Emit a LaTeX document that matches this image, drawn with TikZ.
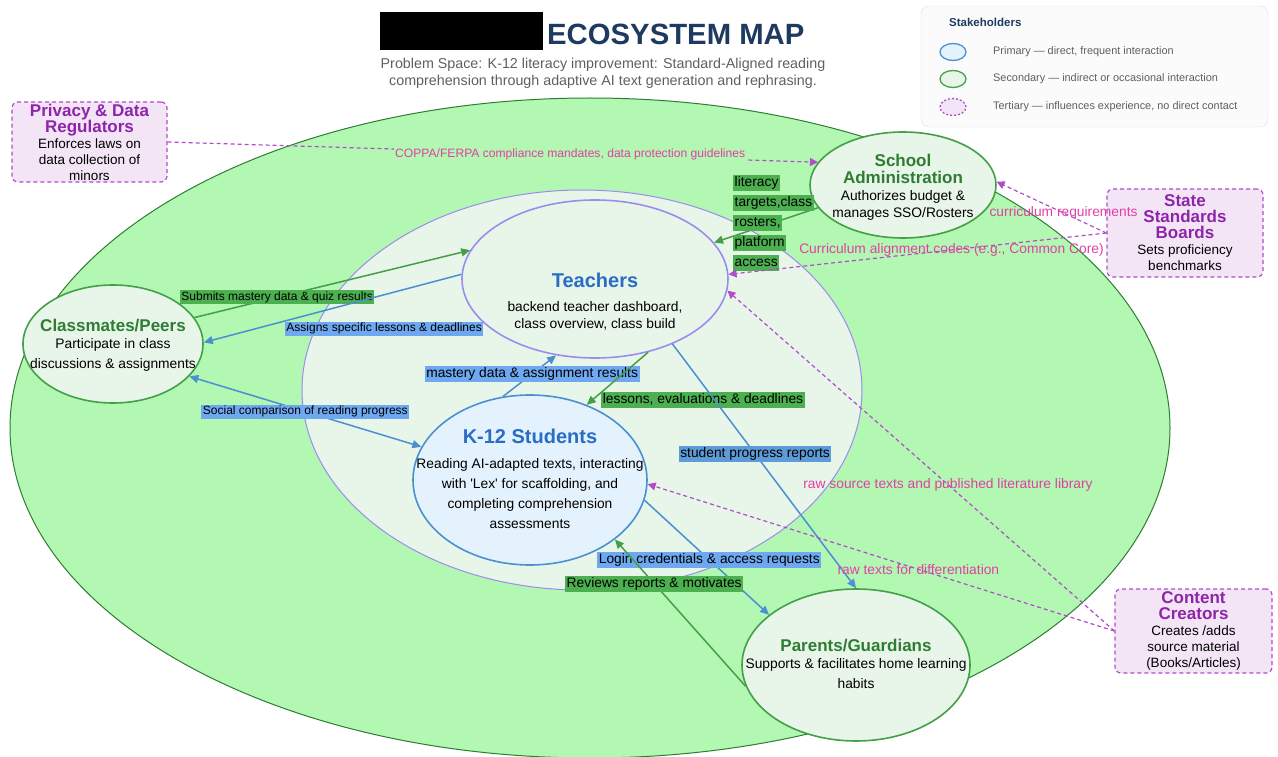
\documentclass[tikz,border=0pt]{standalone}
\usepackage{fontspec}
\setmainfont{Liberation Sans}[Ligatures=TeXOff]
\usetikzlibrary{shapes.geometric,arrows.meta}

\definecolor{zonegreen}{HTML}{B2F7B2}
\definecolor{zoneline}{HTML}{2E7D32}
\definecolor{innerfill}{HTML}{E8F5E9}
\definecolor{lavender}{HTML}{9D8CF0}
\definecolor{bluefill}{HTML}{E3F2FD}
\definecolor{blueline}{HTML}{4A90D2}
\definecolor{greenline}{HTML}{43A047}
\definecolor{greentag}{HTML}{4CAF50}
\definecolor{bluetag}{HTML}{6EA8F0}
\definecolor{tertfill}{HTML}{F3E5F5}
\definecolor{tertline}{HTML}{B24CCB}
\definecolor{namepurple}{HTML}{8E24AA}
\definecolor{pinklabel}{HTML}{E23FA6}
\definecolor{navy}{HTML}{1F3A60}
\definecolor{nameblue}{HTML}{2A6DC4}
\definecolor{namegreen}{HTML}{2E7D32}
\definecolor{subgrey}{HTML}{5F5F5F}

\newcommand{\bluename}[1]{{\fontsize{20}{22}\selectfont\bfseries\color{nameblue}#1}}
\newcommand{\greenname}[1]{{\fontsize{17}{18}\selectfont\bfseries\color{namegreen}#1}}
\newcommand{\purplename}[1]{{\fontsize{17}{17}\selectfont\bfseries\color{namepurple}#1}}

\tikzset{
    primary/.style={ellipse, draw=blueline, fill=bluefill, line width=1.6pt, inner sep=0pt},
    secondary/.style={ellipse, draw=greenline, fill=innerfill, line width=1.6pt, inner sep=0pt},
    bodytext/.style={align=center, inner sep=0pt, font=\fontsize{13.8}{17}\selectfont},
    tertiary/.style={rectangle, rounded corners=6pt, draw=tertline, fill=tertfill, dash pattern=on 4pt off 3pt, line width=1.2pt, inner sep=0pt, align=center, font=\fontsize{13.5}{16}\selectfont},
    gtag/.style={fill=greentag, inner sep=1.5pt, text height=10pt, text depth=3pt, font=\fontsize{13.8}{15}\selectfont},
    btag/.style={fill=bluetag, inner sep=1.5pt, text height=10pt, text depth=3pt, font=\fontsize{13.8}{15}\selectfont},
    smalltag/.style={font=\fontsize{12}{13}\selectfont, text height=8.5pt, text depth=2.5pt},
    ptag/.style={text=pinklabel, inner sep=1pt, font=\fontsize{13.8}{15}\selectfont},
    legendtext/.style={text=subgrey, inner sep=0pt, font=\fontsize{10.9}{12}\selectfont},
    garrow/.style={draw=greenline, line width=1.5pt, -{Triangle[length=9pt, width=8pt]}},
    barrow/.style={draw=blueline, line width=1.5pt, -{Triangle[length=9pt, width=8pt]}},
    parrow/.style={draw=tertline, line width=1.2pt, dash pattern=on 4pt off 3pt, -{Triangle[length=8pt, width=8pt]}},
}

\begin{document}
\begin{tikzpicture}[x=1pt, y=-1pt]
    \useasboundingbox (0,0) rectangle (1278,757);

    % zones
    \filldraw[fill=zonegreen, draw=zoneline, line width=1pt] (590,428) ellipse [x radius=580, y radius=330];
    \filldraw[fill=innerfill, draw=lavender, line width=1pt] (582,390) ellipse [x radius=280, y radius=200];

    % heading
    \node[fill=black, minimum width=163, minimum height=38, inner sep=0pt] (redact) at (461.5,31) {};
    \node[anchor=west, inner sep=0pt, text=navy, font=\fontsize{29.3}{31}\selectfont\bfseries] (title) at (547,34) {ECOSYSTEM MAP};
    \node[align=center, text=subgrey, font=\fontsize{14.3}{17}\selectfont] (subtitle) at (603,73)
        {Problem Space: K-12 literacy improvement: Standard-Aligned reading\\ comprehension through adaptive AI text generation and rephrasing.};

    % key
    \node[draw=gray!25, fill=gray!3, rounded corners=8pt, minimum width=347, minimum height=121, inner sep=0pt] (legend) at (1094.5,66.5) {};
    \node[anchor=west, inner sep=0pt, text=navy, font=\fontsize{11.5}{13}\selectfont\bfseries] (legend-title) at (949,22) {Stakeholders};
    \node[primary, minimum width=26, minimum height=17, line width=1.3pt] (key-primary) at (953,52) {};
    \node[secondary, minimum width=26, minimum height=17, line width=1.3pt] (key-secondary) at (953,79) {};
    \node[tertiary, ellipse, minimum width=26, minimum height=17, line width=1.3pt, dash pattern=on 2pt off 2pt] (key-tertiary) at (953,107) {};
    \node[legendtext, anchor=west] (key-primary-text) at (993,52) {Primary — direct, frequent interaction};
    \node[legendtext, anchor=west] (key-secondary-text) at (993,79) {Secondary — indirect or occasional interaction};
    \node[legendtext, anchor=west] (key-tertiary-text) at (993,107) {Tertiary — influences experience, no direct contact};

    % stakeholders
    \node[secondary, minimum width=266, minimum height=158, draw=lavender] (teachers) at (595,279) {};
    \node[bodytext] (teachers-text) at (595,302)
        {\bluename{Teachers}\\[7pt] backend teacher dashboard,\\ class overview, class build};
    \node[primary, minimum width=234, minimum height=170] (students) at (530,480) {};
    \node[bodytext] (students-text) at (530,479)
        {\bluename{K-12 Students}\\[8pt] Reading AI-adapted texts, interacting\\[3pt] with 'Lex' for scaffolding, and\\[3pt] completing comprehension\\[3pt] assessments};
    \node[secondary, minimum width=180, minimum height=118] (classmates) at (113,344) {};
    \node[bodytext] (classmates-text) at (113,345)
        {\greenname{Classmates/Peers}\\ Participate in class\\[3pt] discussions \& assignments};
    \node[secondary, minimum width=186, minimum height=106] (schooladmin) at (903,185) {};
    \node[bodytext] (schooladmin-text) at (903,187.5)
        {\greenname{School}\\ \greenname{Administration}\\ Authorizes budget \&\\ manages SSO/Rosters};
    \node[secondary, minimum width=228, minimum height=152] (parents) at (856,665) {};
    \node[bodytext] (parents-text) at (856,663.5)
        {\greenname{Parents/Guardians}\\ Supports \& facilitates home learning\\[3pt] habits};
    \node[tertiary, minimum width=155, minimum height=80] (privacy) at (89.5,142)
        {\purplename{Privacy \& Data}\\ \purplename{Regulators}\\ Enforces laws on\\ data collection of\\ minors};
    \node[tertiary, minimum width=156, minimum height=88] (standards) at (1185,233)
        {\purplename{State}\\ \purplename{Standards}\\ \purplename{Boards}\\ Sets proficiency\\ benchmarks};
    \node[tertiary, minimum width=157, minimum height=84] (creators) at (1193.5,631)
        {\purplename{Content}\\ \purplename{Creators}\\ Creates /adds\\ source material\\ (Books/Articles)};

    % primary and secondary flows
    \draw[garrow] (classmates.18) -- node[gtag, smalltag, pos=0.3] (submits) {Submits mastery data \& quiz results} (teachers.167);
    \draw[barrow] (teachers.178) -- node[btag, smalltag, pos=0.3, yshift=-34pt] (assigns) {Assigns specific lessons \& deadlines} (classmates.1);
    \draw[barrow, {Triangle[length=9pt, width=8pt]}-{Triangle[length=9pt, width=8pt]}] (classmates.-23) -- node[btag, smalltag, pos=0.5] (social) {Social comparison of reading progress} (students.163);
    \draw[barrow] (students.108) -- node[btag, pos=0.55] (mastery) {mastery data \& assignment results} (teachers.-117);
    \draw[garrow] (teachers.-54) -- node[gtag, pos=1, anchor=west, xshift=14pt, yshift=5pt] (lessons) {lessons, evaluations \& deadlines} (students.53);
    \draw[barrow] (teachers.-40) -- node[btag, fill=blueline!90, pos=0.45] (progress) {student progress reports} (parents.90);
    \draw[barrow] (students.-10) -- node[btag, pos=0.52] (login) {Login credentials \& access requests} (parents.150);
    \draw[garrow] (parents.191) -- node[gtag, pos=0.7] (reviews) {Reviews reports \& motivates} (students.-35);
    \draw[garrow] (schooladmin.195) -- (teachers.17);
    \foreach \word [count=\i] in {literacy, {targets,class}, {rosters,}, platform, access}
        \node[gtag, anchor=west] (access-\i) at (733,163+20*\i) {\word};

    % tertiary influences
    \draw[parrow] (privacy.east) -- node[ptag, fill=zonegreen, pos=0.619, font=\fontsize{12.1}{13}\selectfont] (coppa) {COPPA/FERPA compliance mandates, data protection guidelines} (schooladmin.165);
    \draw[parrow] (standards.west) -- node[ptag, pos=0.39] (requirements) {curriculum requirements} (schooladmin.2);
    \draw[parrow] (standards.west) -- node[ptag, pos=0.41] (alignment) {Curriculum alignment codes (e.g., Common Core)} (teachers.2);
    \draw[parrow] (creators.west) -- node[ptag, pos=0.43] (library) {raw source texts and published literature library} (teachers.-5);
    \draw[parrow] (creators.west) -- node[ptag, pos=0.42] (differentiation) {raw texts for differentiation} (students.-2);
\end{tikzpicture}
\end{document}
